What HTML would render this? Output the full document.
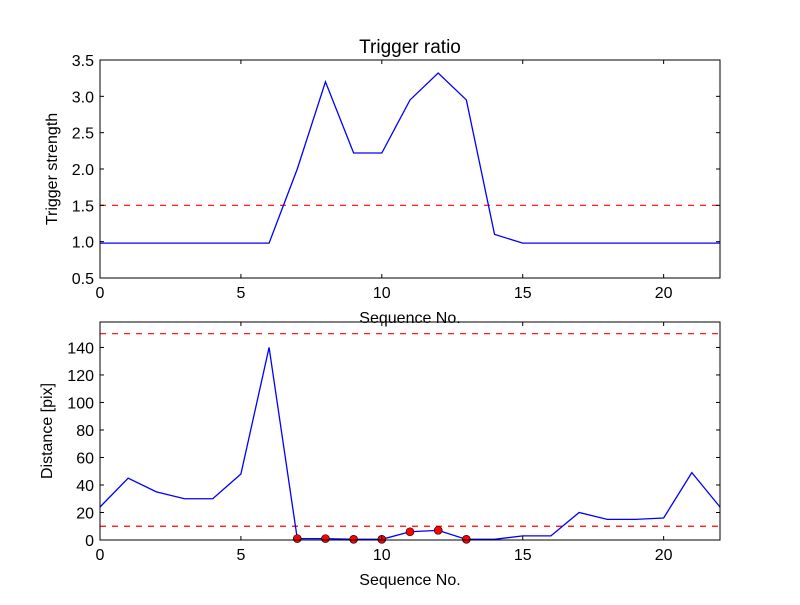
<!DOCTYPE html>
<html><head><meta charset="utf-8"><style>
body{margin:0;background:#fff}
svg text{font-family:"Liberation Sans","DejaVu Sans",sans-serif;fill:#000}
</style></head><body>
<svg id="c" width="800" height="600"></svg>
<script>
const xs=[0,1,2,3,4,5,6,7,8,9,10,11,12,13,14,15,16,17,18,19,20,21,22];
const ratio=[0.98,0.98,0.98,0.98,0.98,0.98,0.98,2.0,3.2,2.22,2.22,2.95,3.32,2.95,1.1,0.98,0.98,0.98,0.98,0.98,0.98,0.98,0.98];
const dist=[24,45,35,30,30,48,140,1,1,0.5,0.5,6,7,0.5,0.5,3,3,20,15,15,16,49,24];
const markIdx=[7,8,9,10,11,12,13];
const xTicks=[0,5,10,15,20];
const yTicksTop=[0.5,1.0,1.5,2.0,2.5,3.0,3.5];
const yTicksBot=[0,20,40,60,80,100,120,140];
const ratioThresh=[1.5];
const distThresh=[10,150];
const NS="http://www.w3.org/2000/svg";
const svg=document.getElementById('c');
function mk(t,a,p){const e=document.createElementNS(NS,t);for(const k in a)e.setAttribute(k,a[k]);(p||svg).appendChild(e);return e;}
function panel(name,top,bot,ymin,ymax,yt,ydata,thr,ylabel,title,fmt,marks){
  const L=100,R=720;
  const X=v=>L+(v-0)/(22-0)*(R-L);
  const Y=v=>bot-(v-ymin)/(ymax-ymin)*(bot-top);
  const g=mk('g',{});
  
  
  thr.forEach(t=>{const l=mk('line',{x1:L,x2:R,y1:Y(t),y2:Y(t),stroke:'#f00','stroke-dasharray':'6,6','stroke-width':1.2},g);
    });
  const p=mk('polyline',{points:xs.map((x,i)=>X(x)+','+Y(ydata[i])).join(' '),fill:'none',stroke:'#00f','stroke-width':1.3},g);
  
  if(marks)marks.forEach(i=>{const c=mk('circle',{cx:X(xs[i]),cy:Y(ydata[i]),r:4,fill:'#f00',stroke:'#000','stroke-width':0.6},g);
    });
  const f=mk('rect',{x:L,y:top,width:R-L,height:bot-top,fill:'none',stroke:'#000','stroke-width':1},g);
  
  xTicks.forEach(t=>{mk('line',{x1:X(t),x2:X(t),y1:bot,y2:bot-4,stroke:'#000'},g);mk('line',{x1:X(t),x2:X(t),y1:top,y2:top+4,stroke:'#000'},g);
    const tx=mk('text',{x:X(t),y:bot+20,'text-anchor':'middle','font-size':16},g);tx.textContent=t;
    });
  yt.forEach(t=>{mk('line',{x1:L,x2:L+4,y1:Y(t),y2:Y(t),stroke:'#000'},g);mk('line',{x1:R,x2:R-4,y1:Y(t),y2:Y(t),stroke:'#000'},g);
    const tx=mk('text',{x:L-6,y:Y(t)+6,'text-anchor':'end','font-size':16},g);tx.textContent=fmt(t);
    });
  const xl=mk('text',{x:410,y:bot+45,'text-anchor':'middle','font-size':16},g);xl.textContent='Sequence No.';
  
  const cy=(top+bot)/2;
  const yl=mk('text',{x:0,y:0,'text-anchor':'middle','font-size':16,transform:`translate(${name==='top-panel'?57:52},${cy}) rotate(-90)`},g);yl.textContent=ylabel;
  
  if(title){const tt=mk('text',{x:410,y:top-7,'text-anchor':'middle','font-size':19},g);tt.textContent=title;
    }
}
panel('top-panel',60,278,0.5,3.5,yTicksTop,ratio,ratioThresh,'Trigger strength','Trigger ratio',t=>t.toFixed(1),null);
panel('bottom-panel',322,540,0,158.5,yTicksBot,dist,distThresh,'Distance [pix]',null,t=>String(t),markIdx);
</script>
</body></html>
